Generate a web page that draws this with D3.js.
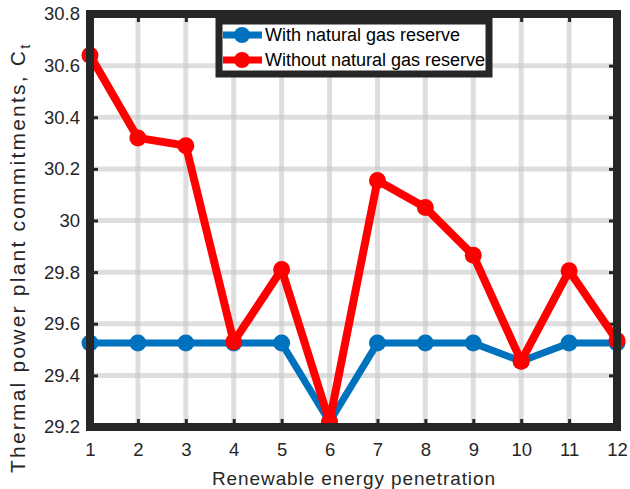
<!DOCTYPE html>
<html>
<head>
<meta charset="utf-8">
<script src="https://cdn.jsdelivr.net/npm/d3@7"></script>
<style>
  body { margin: 0; background: #fff; }
  text { font-family: "Liberation Sans", Arial, sans-serif; }
</style>
</head>
<body>
<div id="viz"></div>
<script>
// data
const penetration = [1, 2, 3, 4, 5, 6, 7, 8, 9, 10, 11, 12];
const withReserve = [29.525, 29.525, 29.525, 29.525, 29.525, 29.22, 29.525, 29.525, 29.525, 29.455, 29.525, 29.525];
const withoutReserve = [30.64, 30.32, 30.29, 29.53, 29.81, 29.22, 30.155, 30.05, 29.865, 29.455, 29.805, 29.535];
const yTicks = [29.2, 29.4, 29.6, 29.8, 30, 30.2, 30.4, 30.6, 30.8];
const seriesNames = ["With natural gas reserve", "Without natural gas reserve"];
const seriesColors = ["#0072BD", "#FF0000"];

const W = 630, H = 489;
const margin = {top: 14, right: 13, bottom: 62, left: 90};
const width = W - margin.left - margin.right,
      height = H - margin.top - margin.bottom;

const svg = d3.select("#viz")
  .append("svg")
    .attr("width", W)
    .attr("height", H);

const g = svg.append("g")
  .attr("transform", "translate(" + margin.left + "," + margin.top + ")");

const x = d3.scaleLinear().domain([1, 12]).range([0, width]);
const y = d3.scaleLinear().domain([29.2, 30.8]).range([height, 0]);

// grid
g.append("g")
  .selectAll("line")
  .data(penetration)
  .enter().append("line")
    .attr("x1", d => x(d)).attr("x2", d => x(d))
    .attr("y1", 0).attr("y2", height)
    .attr("stroke", "#c8c8c8").attr("stroke-opacity", 0.6)
    .attr("stroke-width", 5);
g.append("g")
  .selectAll("line")
  .data(yTicks)
  .enter().append("line")
    .attr("y1", d => y(d)).attr("y2", d => y(d))
    .attr("x1", 0).attr("x2", width)
    .attr("stroke", "#c8c8c8").attr("stroke-opacity", 0.6)
    .attr("stroke-width", 5);

// axes (ticks point inward, MATLAB style)
const axisColor = "#262626";
const xAxis = g.append("g")
  .attr("transform", "translate(0," + height + ")")
  .call(d3.axisBottom(x).tickValues(penetration).tickFormat(d3.format("d"))
    .tickSizeInner(-8).tickSizeOuter(0).tickPadding(16));
const xTop = g.append("g")
  .call(d3.axisTop(x).tickValues(penetration).tickFormat("")
    .tickSizeInner(-8).tickSizeOuter(0));
const yAxis = g.append("g")
  .call(d3.axisLeft(y).tickValues(yTicks).tickFormat(d3.format("~g"))
    .tickSizeInner(-8).tickSizeOuter(0).tickPadding(10));
const yRight = g.append("g")
  .attr("transform", "translate(" + width + ",0)")
  .call(d3.axisRight(y).tickValues(yTicks).tickFormat("")
    .tickSizeInner(-8).tickSizeOuter(0));

[xAxis, xTop, yAxis, yRight].forEach(a => {
  a.select(".domain").remove();
  a.selectAll(".tick line").attr("stroke", axisColor).attr("stroke-width", 3);
  a.selectAll(".tick text")
    .attr("fill", "#262626")
    .style("font-size", "18.5px")
    .style("font-family", "'Liberation Sans', Arial, sans-serif");
});

// lines and markers
const line = d3.line()
  .x((d, i) => x(penetration[i]))
  .y(d => y(d));

[withReserve, withoutReserve].forEach((series, k) => {
  g.append("path")
    .datum(series)
    .attr("d", line)
    .attr("fill", "none")
    .attr("stroke", seriesColors[k])
    .attr("stroke-width", k === 1 ? 8 : 7)
    .attr("stroke-linejoin", "round");
  g.append("g")
    .selectAll("circle")
    .data(series)
    .enter().append("circle")
      .attr("cx", (d, i) => x(penetration[i]))
      .attr("cy", d => y(d))
      .attr("r", 8.5)
      .attr("fill", seriesColors[k]);
});

// frame
g.append("rect")
  .attr("width", width).attr("height", height)
  .attr("fill", "none")
  .attr("stroke", axisColor)
  .attr("stroke-width", 8);

// axis titles
svg.append("text")
  .attr("x", 212)
  .attr("y", 485)
  .attr("textLength", 283)
  .attr("lengthAdjust", "spacing")
  .attr("fill", "#262626")
  .style("font-size", "19px")
  .text("Renewable energy penetration");

const yt = svg.append("text")
  .attr("transform", "translate(25,473) rotate(-90)")
  .attr("fill", "#262626")
  .style("font-size", "21px");
yt.append("tspan")
  .attr("textLength", 422)
  .attr("lengthAdjust", "spacing")
  .text("Thermal power plant commitments, C");
yt.append("tspan").attr("dy", 5).style("font-size", "15px").text("t");

// legend
const legend = svg.append("g").attr("transform", "translate(219,21)");
legend.append("rect")
  .attr("width", 270).attr("height", 53)
  .attr("fill", "#fff")
  .attr("stroke", axisColor)
  .attr("stroke-width", 7);
seriesNames.forEach((name, k) => {
  const row = legend.append("g").attr("transform", "translate(0," + (14 + k * 25) + ")");
  row.append("line")
    .attr("x1", 4).attr("x2", 43)
    .attr("stroke", seriesColors[k]).attr("stroke-width", 7);
  row.append("circle")
    .attr("cx", 23).attr("r", 8).attr("fill", seriesColors[k]);
  row.append("text")
    .attr("x", 46).attr("dy", "0.35em")
    .attr("fill", "#000")
    .style("font-size", "18px")
    .text(name);
});
</script>
</body>
</html>
